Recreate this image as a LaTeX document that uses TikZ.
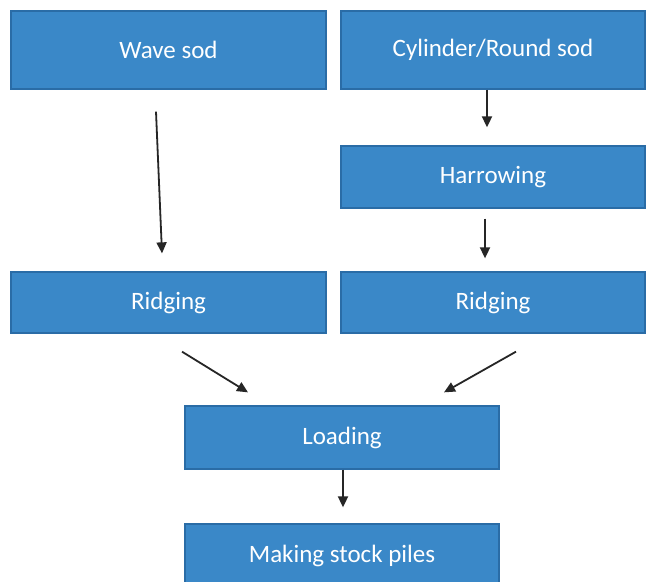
\documentclass[tikz,border=0pt]{standalone}
\usepackage{fontspec}
\setmainfont{Carlito}
\usetikzlibrary{arrows.meta}
\definecolor{boxfill}{HTML}{3A88C8}
\definecolor{boxline}{HTML}{2A6CA6}
\tikzset{
  procbox/.style={rectangle, fill=boxfill, draw=boxline, line width=1.3pt,
    text=white, font=\fontsize{25}{28}\selectfont, inner sep=0pt},
  flowarrow/.style={-{Triangle[length=11pt,width=10pt]}, line width=1.8pt, black!85}
}
\begin{document}
\begin{tikzpicture}[x=1pt,y=-1pt]
\clip (0,0) rectangle (647,581);
\fill[white] (0,0) rectangle (647,581);
\node[procbox, minimum width=315pt, minimum height=78pt] (wave) at (168.5,50) {Wave sod};
\node[procbox, minimum width=304pt, minimum height=78pt] (cyl) at (493,50) {Cylinder/Round sod};
\node[procbox, minimum width=304pt, minimum height=62pt] (harrow) at (493,177) {Harrowing};
\node[procbox, minimum width=315pt, minimum height=61pt] (ridgeL) at (168.5,302.5) {Ridging};
\node[procbox, minimum width=304pt, minimum height=61pt] (ridgeR) at (493,302.5) {Ridging};
\node[procbox, minimum width=314pt, minimum height=63pt] (load) at (342,437.5) {Loading};
\node[procbox, minimum width=314pt, minimum height=64pt] (stock) at (342,556) {Making stock piles};
\draw[flowarrow] ([shift={(-12.5,22)}]wave.south) -- ([shift={(-6.5,-18)}]ridgeL.north);
\draw[flowarrow] ([shift={(-6,0)}]cyl.south) -- ([shift={(-6,-18)}]harrow.north);
\draw[flowarrow] ([shift={(-8,10)}]harrow.south) -- ([shift={(-8,-13)}]ridgeR.north);
\draw[flowarrow] ([shift={(13.5,18)}]ridgeL.south) -- ([shift={(-94,-13)}]load.north);
\draw[flowarrow] ([shift={(23,18)}]ridgeR.south) -- ([shift={(102,-13)}]load.north);
\draw[flowarrow] ([shift={(1,0)}]load.south) -- ([shift={(1,-16)}]stock.north);
\end{tikzpicture}
\end{document}
